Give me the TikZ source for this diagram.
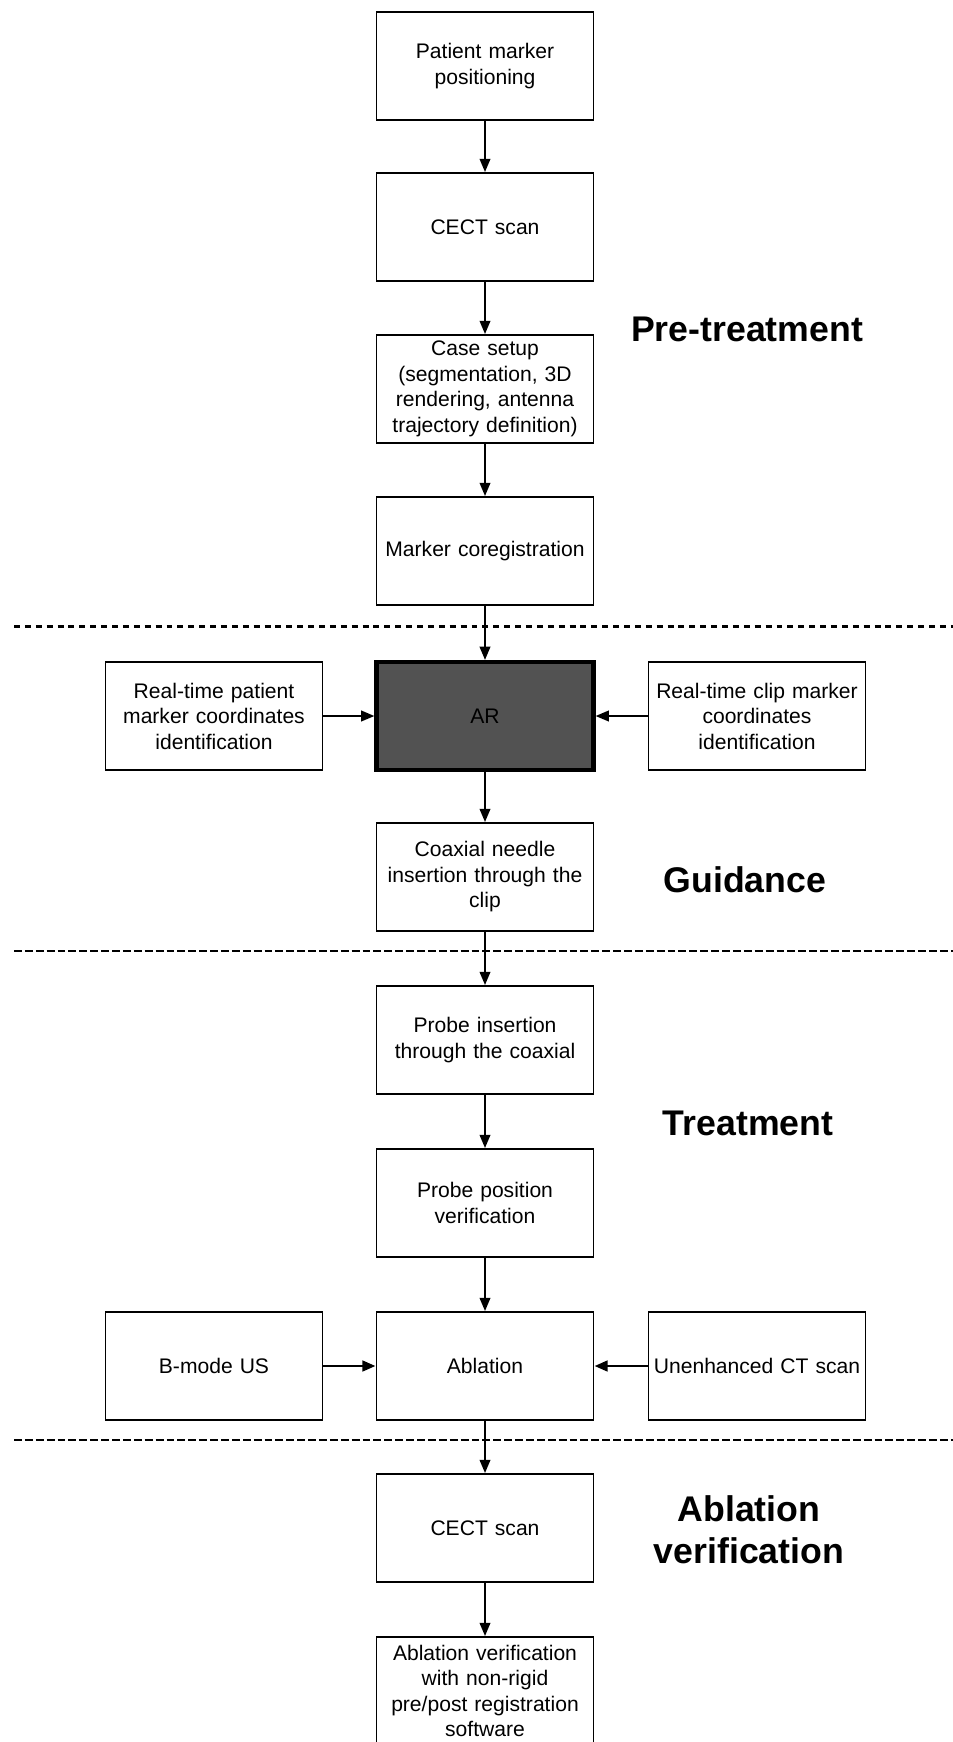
\documentclass[tikz,border=0pt]{standalone}
\usepackage{fontspec}
\setmainfont{Liberation Sans}
\usetikzlibrary{arrows.meta}
\tikzset{
  stepbox/.style={draw,line width=1.1pt,minimum width=4.34cm,minimum height=2.16cm,
    text width=4.3cm,align=center,inner sep=0.5pt,font=\fontsize{12}{14.5}\selectfont},
  arbox/.style={stepbox,line width=2.4pt,fill=black!68},
  phase/.style={font=\fontsize{20.3}{24}\selectfont\bfseries,align=center},
  flow/.style={-{Triangle[length=7.5pt,width=6pt]},line width=1.1pt},
  dotline/.style={line width=1.7pt,dash pattern=on 3.4pt off 2.8pt},
  sepline/.style={line width=1.1pt,dash pattern=on 4.5pt off 1.7pt}
}

\begin{document}
\begin{tikzpicture}[x=0.02cm,y=-0.02cm]
  \useasboundingbox (0,0) rectangle (953,1742);
  % main column
  \node[stepbox] (marker) at (485,66) {Patient marker\\positioning};
  \node[stepbox] (cect) at (485,227) {CECT scan};
  \node[stepbox] (setup) at (485,389) {Case setup\\(segmentation, 3D\\rendering, antenna\\trajectory definition)};
  \node[stepbox] (coreg) at (485,551) {Marker coregistration};
  \node[arbox] (ar) at (485,716) {AR};
  \node[stepbox] (coax) at (485,877) {Coaxial needle\\insertion through the\\clip};
  \node[stepbox] (probein) at (485,1040) {Probe insertion\\through the coaxial};
  \node[stepbox] (probepos) at (485,1203) {Probe position\\verification};
  \node[stepbox] (abl) at (485,1366) {Ablation};
  \node[stepbox] (cect2) at (485,1528) {CECT scan};
  \node[stepbox] (ablver) at (485,1691) {Ablation verification\\with non-rigid\\pre/post registration\\software};
  % side inputs
  \node[stepbox] (ptmark) at (214,716) {Real-time patient\\marker coordinates\\identification};
  \node[stepbox] (clipmark) at (757,716) {Real-time clip marker\\coordinates\\identification};
  \node[stepbox] (bmode) at (214,1366) {B-mode US};
  \node[stepbox] (unenh) at (757,1366) {Unenhanced CT scan};
  % phases
  \draw[dotline] (14,626) -- (953,626);
  \draw[sepline] (14,951) -- (953,951);
  \draw[sepline] (14,1440) -- (953,1440);
  \node[phase] (pre) at (747,329) {Pre-treatment};
  \node[phase] (guid) at (745,880) {Guidance};
  \node[phase] (treat) at (748,1123) {Treatment};
  \node[phase] (verif) at (749,1530) {Ablation\\verification};
  % arrows
  \foreach \a/\b in {marker/cect,cect/setup,setup/coreg,coreg/ar,ar/coax,
      coax/probein,probein/probepos,probepos/abl,abl/cect2,cect2/ablver}
    \draw[flow] (\a) -- (\b);
  \draw[flow] (ptmark) -- (ar);
  \draw[flow] (clipmark) -- (ar);
  \draw[flow,line width=1.6pt] (bmode) -- (abl);
  \draw[flow,line width=1.6pt] (unenh) -- (abl);
\end{tikzpicture}
\end{document}
